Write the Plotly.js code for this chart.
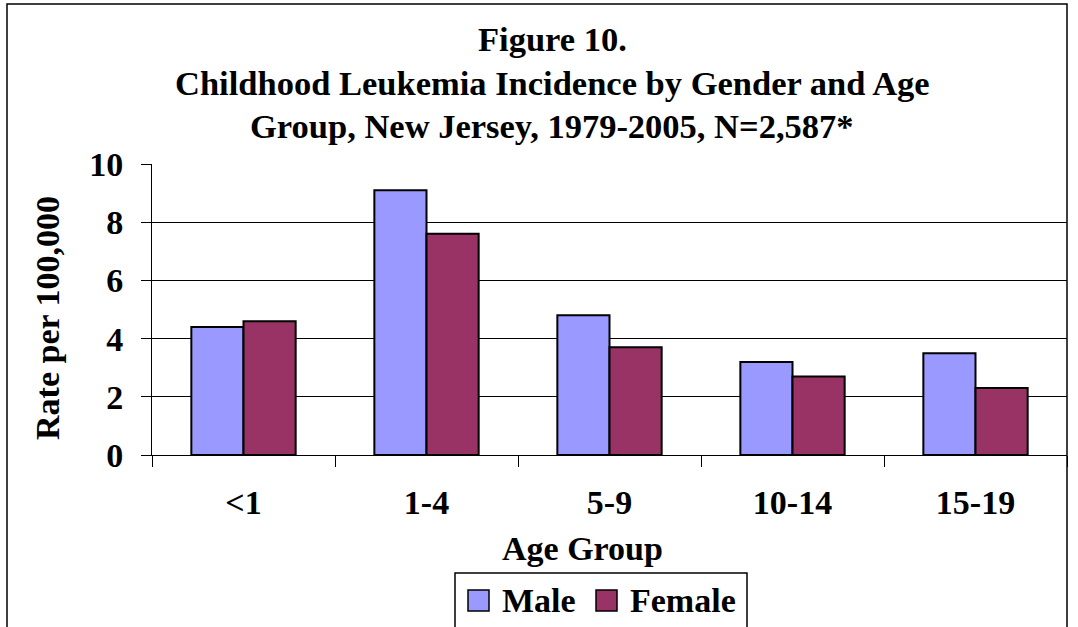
<!DOCTYPE html>
<html><head><meta charset="utf-8">
<script src="https://cdn.plot.ly/plotly-3.0.1.min.js"></script>
<style>html,body{margin:0;padding:0;background:#fff}#c{width:1078px;height:627px}</style>
</head><body><div id="c"></div>
<script>
const categories = ["<1", "1-4", "5-9", "10-14", "15-19"];
const maleRates = [4.4, 9.1, 4.8, 3.2, 3.5];
const femaleRates = [4.6, 7.6, 3.7, 2.7, 2.3];
const yTicks = [0, 2, 4, 6, 8, 10];
const seriesNames = ["Male", "Female"];
const seriesColors = ["#9999FF", "#993366"];
const titleLines = ["Figure 10.", "Childhood Leukemia Incidence by Gender and Age", "Group, New Jersey, 1979-2005, N=2,587*"];

const W = 1078, H = 627, L = 152, R = 1067, T = 164, B = 455;
const px = x => (x - L) / (R - L);
const py = y => (B - y) / (B - T);
const FONT = "Liberation Serif, Times New Roman, serif";
const FS = 34;

const traces = [
  {type: "bar", name: seriesNames[0], x: categories, y: maleRates,
   marker: {color: seriesColors[0], line: {color: "#000", width: 2}}},
  {type: "bar", name: seriesNames[1], x: categories, y: femaleRates,
   marker: {color: seriesColors[1], line: {color: "#000", width: 2}}}
];

const annotations = titleLines.map((t, i) => ({
  text: "<b>" + t + "</b>", xref: "paper", yref: "paper",
  x: px(552), y: py(39 + i * 43.5), xanchor: "center", yanchor: "middle",
  showarrow: false, font: {family: FONT, size: 34.5, color: "#000"}
}));
annotations.push({text: "<b>Age Group</b>", xref: "paper", yref: "paper",
  x: px(582), y: py(548), xanchor: "center", yanchor: "middle", showarrow: false,
  font: {family: FONT, size: FS, color: "#000"}});
annotations.push({text: "<b>Rate per 100,000</b>", xref: "paper", yref: "paper",
  x: px(47), y: py(318), xanchor: "center", yanchor: "middle", showarrow: false,
  textangle: -90, font: {family: FONT, size: FS, color: "#000"}});

// custom legend (box, swatches, labels)
const legX = [468, 596];
const legTextX = [500, 628];
const shapes = [
  {type: "rect", xref: "paper", yref: "paper",
    x0: px(7), x1: px(1067), y0: py(640), y1: py(4),
    line: {color: "#000", width: 1.5}, fillcolor: "rgba(0,0,0,0)"},
  {type: "rect", xref: "paper", yref: "paper",
    x0: px(455), x1: px(747), y0: py(635), y1: py(573),
    line: {color: "#000", width: 1.5}, fillcolor: "#fff"}
];
seriesNames.forEach((n, i) => {
  shapes.push({type: "rect", xref: "paper", yref: "paper",
    x0: px(legX[i]), x1: px(legX[i] + 21), y0: py(611), y1: py(590),
    line: {color: "#000", width: 1.5}, fillcolor: seriesColors[i]});
  annotations.push({text: "<b>" + n + "</b>", xref: "paper", yref: "paper",
    x: px(legTextX[i]), y: py(600), xanchor: "left", yanchor: "middle", showarrow: false,
    font: {family: FONT, size: FS, color: "#000"}});
});

const layout = {
  width: W, height: H,
  margin: {l: L, r: W - R, t: T, b: H - B, pad: 0, autoexpand: false},
  paper_bgcolor: "#fff", plot_bgcolor: "#fff",
  barmode: "group", bargap: 0.43, bargroupgap: 0,
  font: {family: FONT, color: "#000"},
  showlegend: false,
  xaxis: {type: "category", tickson: "boundaries", ticks: "outside", ticklen: 11,
    tickcolor: "#000", tickwidth: 1, showgrid: false, showline: true, linecolor: "#000",
    linewidth: 1, ticklabelstandoff: 17,
    tickfont: {family: FONT, size: FS, color: "#000", weight: "bold"}},
  yaxis: {range: [0, 10], tickvals: yTicks, ticktext: yTicks.map(String),
    ticks: "outside", ticklen: 10, tickcolor: "#000", showgrid: true, gridcolor: "#000",
    gridwidth: 1, showline: true, linecolor: "#000", linewidth: 1, zeroline: false,
    ticklabelstandoff: 11,
    tickfont: {family: FONT, size: FS, color: "#000", weight: "bold"}},
  annotations: annotations,
  shapes: shapes
};

Plotly.newPlot("c", traces, layout, {displayModeBar: false, staticPlot: true});
</script></body></html>
